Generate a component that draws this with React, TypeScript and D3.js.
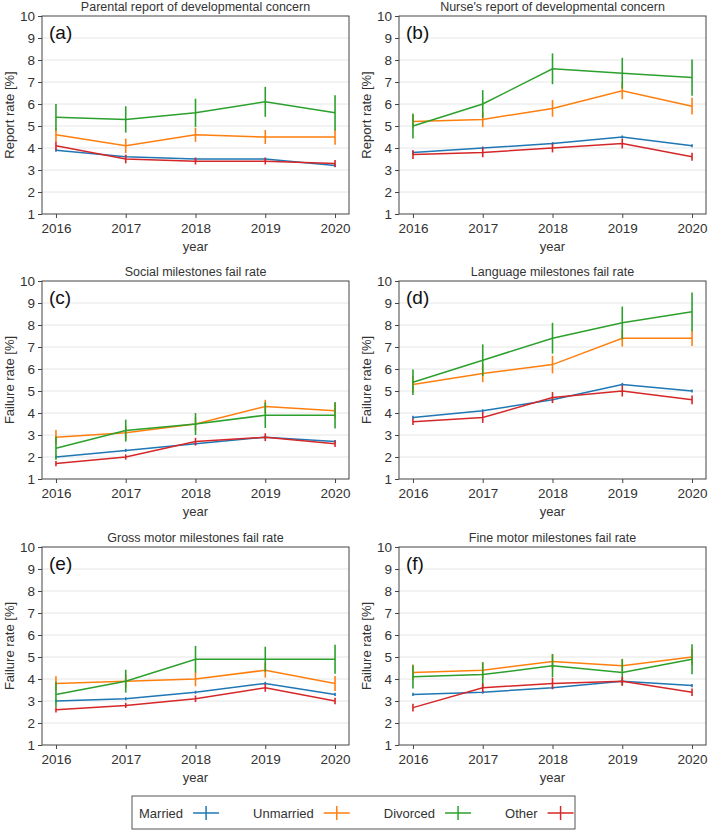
import React, { useEffect, useRef } from "react";
import * as d3 from "d3";

const years = [2016, 2017, 2018, 2019, 2020];
const seriesNames = ["Married", "Unmarried", "Divorced", "Other"];
const seriesColors = ["#1f77b4", "#ff7f0e", "#2ca02c", "#d62728"];
const yTicks = [1, 2, 3, 4, 5, 6, 7, 8, 9, 10];

const panelLetters = ["(a)", "(b)", "(c)", "(d)", "(e)", "(f)"];
const panelTitles = [
  "Parental report of developmental concern",
  "Nurse's report of developmental concern",
  "Social milestones fail rate",
  "Language milestones fail rate",
  "Gross motor milestones fail rate",
  "Fine motor milestones fail rate",
];
const panelYLabels = [
  "Report rate [%]",
  "Report rate [%]",
  "Failure rate [%]",
  "Failure rate [%]",
  "Failure rate [%]",
  "Failure rate [%]",
];

// values per panel: [Married, Unmarried, Divorced, Other]
const valuesA = [
  [3.9, 3.6, 3.5, 3.5, 3.2],
  [4.6, 4.1, 4.6, 4.5, 4.5],
  [5.4, 5.3, 5.6, 6.1, 5.6],
  [4.1, 3.5, 3.4, 3.4, 3.3],
];
const errorsA = [
  [0.07, 0.07, 0.07, 0.07, 0.07],
  [0.3, 0.33, 0.32, 0.32, 0.35],
  [0.6, 0.6, 0.64, 0.68, 0.8],
  [0.2, 0.2, 0.15, 0.15, 0.15],
];
const valuesB = [
  [3.8, 4.0, 4.2, 4.5, 4.1],
  [5.2, 5.3, 5.8, 6.6, 5.9],
  [5.0, 6.0, 7.6, 7.4, 7.2],
  [3.7, 3.8, 4.0, 4.2, 3.6],
];
const errorsB = [
  [0.07, 0.07, 0.07, 0.07, 0.07],
  [0.3, 0.35, 0.38, 0.38, 0.38],
  [0.57, 0.63, 0.7, 0.7, 0.82],
  [0.2, 0.22, 0.2, 0.22, 0.18],
];
const valuesC = [
  [2.0, 2.3, 2.6, 2.9, 2.7],
  [2.9, 3.1, 3.5, 4.3, 4.1],
  [2.4, 3.2, 3.5, 3.9, 3.9],
  [1.7, 2.0, 2.7, 2.9, 2.6],
];
const errorsC = [
  [0.07, 0.07, 0.07, 0.07, 0.07],
  [0.33, 0.3, 0.3, 0.3, 0.34],
  [0.53, 0.5, 0.5, 0.58, 0.6],
  [0.12, 0.12, 0.17, 0.18, 0.15],
];
const valuesD = [
  [3.8, 4.1, 4.6, 5.3, 5.0],
  [5.3, 5.8, 6.2, 7.4, 7.4],
  [5.4, 6.4, 7.4, 8.1, 8.6],
  [3.6, 3.8, 4.7, 5.0, 4.6],
];
const errorsD = [
  [0.07, 0.07, 0.07, 0.07, 0.07],
  [0.37, 0.4, 0.4, 0.38, 0.35],
  [0.58, 0.72, 0.7, 0.74, 0.88],
  [0.15, 0.25, 0.25, 0.25, 0.2],
];
const valuesE = [
  [3.0, 3.1, 3.4, 3.8, 3.3],
  [3.8, 3.9, 4.0, 4.4, 3.8],
  [3.3, 3.9, 4.9, 4.9, 4.9],
  [2.6, 2.8, 3.1, 3.6, 3.0],
];
const errorsE = [
  [0.07, 0.07, 0.07, 0.07, 0.07],
  [0.32, 0.3, 0.33, 0.34, 0.34],
  [0.57, 0.52, 0.6, 0.57, 0.66],
  [0.12, 0.12, 0.15, 0.18, 0.15],
];
const valuesF = [
  [3.3, 3.4, 3.6, 3.9, 3.7],
  [4.3, 4.4, 4.8, 4.6, 5.0],
  [4.1, 4.2, 4.6, 4.3, 4.9],
  [2.7, 3.6, 3.8, 3.9, 3.4],
];
const errorsF = [
  [0.07, 0.07, 0.07, 0.07, 0.07],
  [0.36, 0.36, 0.34, 0.32, 0.36],
  [0.53, 0.56, 0.53, 0.6, 0.68],
  [0.18, 0.2, 0.25, 0.2, 0.17],
];

const panelValues = [valuesA, valuesB, valuesC, valuesD, valuesE, valuesF];
const panelErrors = [errorsA, errorsB, errorsC, errorsD, errorsE, errorsF];

const FONT = "'Liberation Sans', Arial, sans-serif";
const TEXT = "#333";

export default function App() {
  const ref = useRef<SVGSVGElement>(null);

  useEffect(() => {
    const svg = d3.select(ref.current);
    svg.selectAll("*").remove();

    const colLeft = [42, 399];
    const plotW = 307;
    const rowTop = [16, 281, 547];
    const plotH = 198;

    panelValues.forEach((vals, pi) => {
      const col = pi % 2;
      const row = Math.floor(pi / 2);
      const left = colLeft[col];
      const top = rowTop[row];
      const x = d3.scaleLinear().domain([2015.8, 2020.2]).range([left, left + plotW]);
      const y = d3.scaleLinear().domain([1, 10]).range([top + plotH, top]);
      const g = svg.append("g");

      // grid
      g.selectAll("line.grid")
        .data(yTicks.slice(1, -1))
        .join("line")
        .attr("x1", left)
        .attr("x2", left + plotW)
        .attr("y1", (d) => y(d))
        .attr("y2", (d) => y(d))
        .attr("stroke", "#e6e6e6")
        .attr("stroke-width", 1);

      // axes
      const yAxis = d3.axisLeft(y).tickValues(yTicks).tickSize(4).tickPadding(3).tickFormat(d3.format("d"));
      const xAxis = d3.axisBottom(x).tickValues(years).tickSize(4).tickPadding(5).tickFormat(d3.format("d"));
      const ya = g.append("g").attr("transform", `translate(${left},0)`).call(yAxis);
      const xa = g.append("g").attr("transform", `translate(0,${top + plotH})`).call(xAxis);
      [ya, xa].forEach((a) => {
        a.select(".domain").remove();
        a.selectAll("line").attr("stroke", "#444");
        a.selectAll("text").attr("fill", TEXT).attr("font-size", 13.5).attr("font-family", FONT);
      });

      // series
      vals.forEach((sv, si) => {
        const errs = panelErrors[pi][si];
        const color = seriesColors[si];
        const line = d3
          .line<number>()
          .x((_, i) => x(years[i]))
          .y((d) => y(d));
        g.append("path")
          .attr("d", line(sv))
          .attr("fill", "none")
          .attr("stroke", color)
          .attr("stroke-width", 1.5);
        g.selectAll(null)
          .data(sv)
          .join("line")
          .attr("x1", (_, i) => x(years[i]))
          .attr("x2", (_, i) => x(years[i]))
          .attr("y1", (d, i) => y(d - errs[i]))
          .attr("y2", (d, i) => y(d + errs[i]))
          .attr("stroke", color)
          .attr("stroke-width", 1.6);
      });

      // frame
      g.append("rect")
        .attr("x", left)
        .attr("y", top)
        .attr("width", plotW)
        .attr("height", plotH)
        .attr("fill", "none")
        .attr("stroke", "#444")
        .attr("stroke-width", 1);

      // letter
      g.append("text")
        .attr("x", left + 7)
        .attr("y", top + 23)
        .attr("font-size", 19)
        .attr("font-family", FONT)
        .attr("fill", "#111")
        .text(panelLetters[pi]);

      // title
      g.append("text")
        .attr("x", left + plotW / 2)
        .attr("y", top - 5)
        .attr("text-anchor", "middle")
        .attr("font-size", 12.5)
        .attr("font-family", FONT)
        .attr("fill", TEXT)
        .text(panelTitles[pi]);

      // x label
      g.append("text")
        .attr("x", left + plotW / 2)
        .attr("y", top + plotH + 37)
        .attr("text-anchor", "middle")
        .attr("font-size", 13)
        .attr("font-family", FONT)
        .attr("fill", TEXT)
        .text("year");

      // y label
      g.append("text")
        .attr("transform", `translate(${left - 28},${top + plotH / 2}) rotate(-90)`)
        .attr("text-anchor", "middle")
        .attr("font-size", 13)
        .attr("font-family", FONT)
        .attr("fill", TEXT)
        .text(panelYLabels[pi]);
    });

    // legend
    const lg = svg.append("g");
    const boxX = 132, boxY = 796, boxW = 443, boxH = 33;
    lg.append("rect")
      .attr("x", boxX)
      .attr("y", boxY)
      .attr("width", boxW)
      .attr("height", boxH)
      .attr("fill", "white")
      .attr("stroke", "#555")
      .attr("stroke-width", 1);
    let cx = boxX + 7;
    const cy = boxY + 17;
    seriesNames.forEach((name, i) => {
      const t = lg.append("text")
        .attr("x", cx)
        .attr("y", cy + 5)
        .attr("font-size", 13)
        .attr("font-family", FONT)
        .attr("fill", TEXT)
        .text(name);
      const w = (t.node() as SVGTextElement).getComputedTextLength();
      const mx = cx + w + 10;
      lg.append("line").attr("x1", mx).attr("x2", mx + 26).attr("y1", cy).attr("y2", cy)
        .attr("stroke", seriesColors[i]).attr("stroke-width", 1.5);
      lg.append("line").attr("x1", mx + 13).attr("x2", mx + 13).attr("y1", cy - 7).attr("y2", cy + 7)
        .attr("stroke", seriesColors[i]).attr("stroke-width", 1.5);
      cx = mx + 26 + 34;
    });
  }, []);

  return (
    <svg
      ref={ref}
      width={708}
      height={830}
      style={{ position: "absolute", left: 0, top: 0, background: "white", display: "block" }}
    />
  );
}
